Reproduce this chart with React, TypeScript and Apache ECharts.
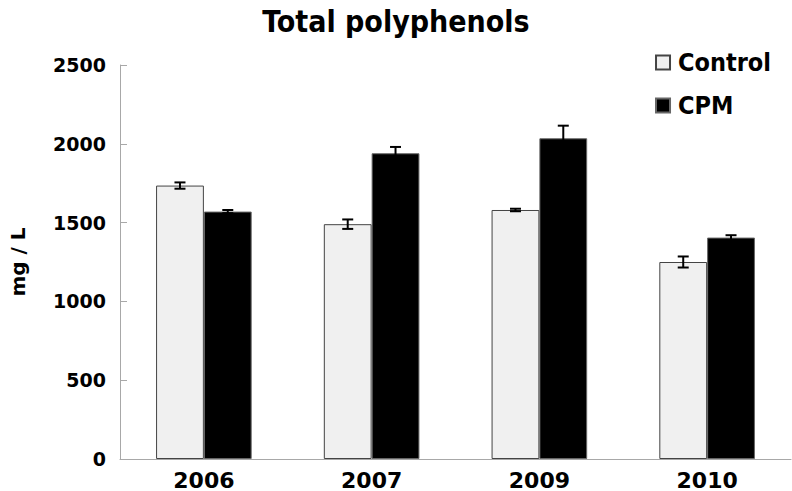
import React, { useEffect, useRef } from "react";
import * as echarts from "echarts";

const categories = ["2006", "2007", "2009", "2010"];
const controlValues = [1735, 1490, 1580, 1250];
const controlErrors = [20, 30, 8, 35];
const cpmValues = [1570, 1940, 2035, 1405];
const cpmErrors = [10, 40, 80, 15];
const yTicks = { min: 0, max: 2500, interval: 500 };

const FONT = "DejaVu Sans";
const CAT_GAP = 0.43;

export default function App() {
  const ref = useRef<HTMLDivElement>(null);
  useEffect(() => {
    if (!ref.current) return;
    const chart = echarts.init(ref.current, null, { renderer: "svg" });
    const errData: any[] = [];
    controlValues.forEach((v, i) => errData.push([i, v, controlErrors[i], 0]));
    cpmValues.forEach((v, i) => errData.push([i, v, cpmErrors[i], 1]));
    chart.setOption({
      animation: false,
      backgroundColor: "#ffffff",
      title: {
        text: "Total polyphenols",
        left: "center",
        top: 1,
        textStyle: { fontFamily: "DejaVu Sans Condensed", fontWeight: "bold", fontSize: 30, color: "#000" },
      },
      legend: {
        orient: "vertical",
        right: 16,
        top: 45,
        itemWidth: 14,
        itemHeight: 14,
        itemGap: 18,
        icon: "rect",
        textStyle: {
          fontFamily: "DejaVu Sans Condensed",
          fontWeight: "bold",
          fontSize: 25,
          color: "#000",
          padding: [0, 0, 0, 3],
        },
        data: ["Control", "CPM"],
      },
      grid: { left: 116, right: 1, top: 65, bottom: 32, containLabel: false },
      xAxis: {
        type: "category",
        data: categories,
        axisLine: { lineStyle: { color: "#a8a8a8", width: 1 } },
        axisTick: { show: false },
        axisLabel: {
          fontFamily: FONT,
          fontWeight: "bold",
          fontSize: 22,
          color: "#000",
          margin: 10,
        },
      },
      yAxis: {
        type: "value",
        min: yTicks.min,
        max: yTicks.max,
        interval: yTicks.interval,
        name: "mg / L",
        nameLocation: "middle",
        nameGap: 92,
        nameRotate: 90,
        nameTextStyle: { fontFamily: FONT, fontWeight: "bold", fontSize: 20, color: "#000" },
        axisLine: { show: true, lineStyle: { color: "#a8a8a8", width: 1 } },
        axisTick: { show: true, inside: true, length: 7, lineStyle: { color: "#a8a8a8" } },
        splitLine: { show: false },
        axisLabel: {
          fontFamily: FONT,
          fontWeight: "bold",
          fontSize: 19,
          color: "#000",
          margin: 14,
          formatter: (v: number) => String(v),
        },
      },
      series: [
        {
          name: "Control",
          type: "bar",
          data: controlValues,
          barGap: "0%",
          barCategoryGap: CAT_GAP * 100 + "%",
          itemStyle: { color: "#f0f0f0", borderColor: "#444", borderWidth: 1 },
        },
        {
          name: "CPM",
          type: "bar",
          data: cpmValues,
          itemStyle: { color: "#000000", borderColor: "#666", borderWidth: 1 },
        },
        {
          type: "custom",
          name: "err",
          data: errData,
          z: 10,
          renderItem: (params: any, api: any) => {
            const cat = api.value(0);
            const val = api.value(1);
            const err = api.value(2);
            const s = api.value(3);
            const band = api.size([1, 0])[0];
            const barW = (band * (1 - CAT_GAP)) / 2;
            const off = s === 0 ? -barW / 2 : barW / 2;
            const top = api.coord([cat, val + err]);
            const bot = api.coord([cat, val - err]);
            const x = top[0] + off;
            const cap = 5.5;
            const style = { stroke: "#000", lineWidth: 2 };
            return {
              type: "group",
              children: [
                { type: "line", shape: { x1: x, y1: top[1], x2: x, y2: bot[1] }, style },
                { type: "line", shape: { x1: x - cap, y1: top[1], x2: x + cap, y2: top[1] }, style },
                { type: "line", shape: { x1: x - cap, y1: bot[1], x2: x + cap, y2: bot[1] }, style },
              ],
            };
          },
        },
      ],
    });
    return () => chart.dispose();
  }, []);
  return <div ref={ref} style={{ width: 792, height: 491, position: "absolute", left: 0, top: 0 }} />;
}
